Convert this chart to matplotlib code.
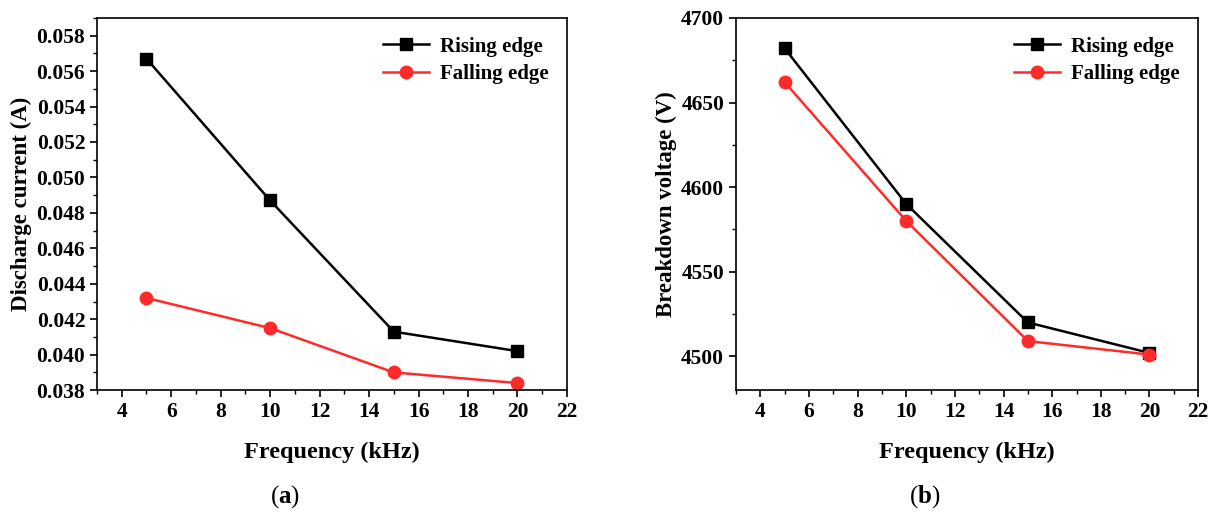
import matplotlib
matplotlib.use("Agg")
import matplotlib.pyplot as plt
from matplotlib.ticker import MultipleLocator, FormatStrFormatter

plt.rcParams['font.family'] = ['Liberation Serif', 'DejaVu Serif']
plt.rcParams['font.weight'] = 'bold'
plt.rcParams['mathtext.fontset'] = 'custom'
plt.rcParams['mathtext.bf'] = 'Liberation Serif:bold'
plt.rcParams['mathtext.rm'] = 'Liberation Serif'

freq = [5, 10, 15, 20]
current_rising = [0.0567, 0.0487, 0.0413, 0.0402]
current_falling = [0.0432, 0.0415, 0.0390, 0.0384]
voltage_rising = [4682, 4590, 4520, 4502]
voltage_falling = [4662, 4580, 4509, 4501]
series_labels = ["Rising edge", "Falling edge"]

fig = plt.figure(figsize=(12.14, 5.12), dpi=100)
ax1 = fig.add_axes([0.0799, 0.238, 0.3871, 0.727])
ax2 = fig.add_axes([0.6063, 0.238, 0.3806, 0.727])

def style(ax, ylabel):
    ax.set_xlim(3, 22)
    ax.xaxis.set_major_locator(MultipleLocator(2))
    ax.xaxis.set_minor_locator(MultipleLocator(1))
    ax.tick_params(axis='both', which='major', direction='out', length=5, width=1.2,
                   labelsize=15.5, top=False, right=False)
    ax.tick_params(axis='both', which='minor', direction='out', length=3, width=1.0,
                   top=False, right=False)
    for s in ax.spines.values():
        s.set_linewidth(1.2)
    for lab in ax.get_xticklabels() + ax.get_yticklabels():
        lab.set_fontweight('bold')
    ax.set_xlabel("Frequency (kHz)", fontsize=17.5, fontweight='bold', labelpad=14)
    ax.set_ylabel(ylabel, fontsize=16.5, fontweight='bold', labelpad=3)
    ax.legend(loc='upper right', frameon=False, fontsize=15, handlelength=2.2,
              borderaxespad=0.5, labelspacing=0.35, handletextpad=0.5)

ax1.plot(freq, current_rising, color='black', marker='s', markersize=9, linewidth=1.8,
         label=series_labels[0])
ax1.plot(freq, current_falling, color='#ff2a2a', marker='o', markersize=9, linewidth=1.8,
         label=series_labels[1])
ax1.set_ylim(0.038, 0.059)
ax1.yaxis.set_major_locator(MultipleLocator(0.002))
ax1.yaxis.set_minor_locator(MultipleLocator(0.001))
ax1.yaxis.set_major_formatter(FormatStrFormatter('%.3f'))
style(ax1, "Discharge current (A)")

ax2.plot(freq, voltage_rising, color='black', marker='s', markersize=9, linewidth=1.8,
         label=series_labels[0])
ax2.plot(freq, voltage_falling, color='#ff2a2a', marker='o', markersize=9, linewidth=1.8,
         label=series_labels[1])
ax2.set_ylim(4480, 4700)
ax2.yaxis.set_major_locator(MultipleLocator(50))
ax2.yaxis.set_minor_locator(MultipleLocator(25))
style(ax2, "Breakdown voltage (V)")

fig.text(0.235, 0.018, r"($\mathbf{a}$)", fontsize=18, fontweight='normal', ha='center')
fig.text(0.762, 0.018, r"($\mathbf{b}$)", fontsize=18, fontweight='normal', ha='center')

fig.savefig("out.png", dpi=100)
